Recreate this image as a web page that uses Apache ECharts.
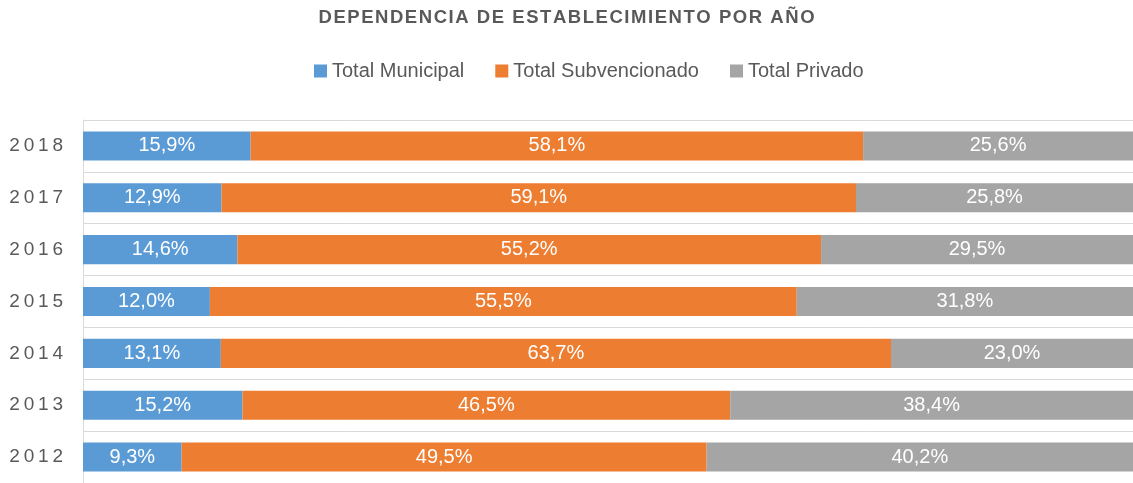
<!DOCTYPE html>
<html>
<head>
<meta charset="utf-8">
<script src="https://cdn.jsdelivr.net/npm/echarts@6/dist/echarts.min.js"></script>
<style>html,body{margin:0;padding:0;background:#fff}#c{width:1133px;height:483px}</style>
</head>
<body>
<div id="c"></div>
<script>
var titleText = 'DEPENDENCIA DE ESTABLECIMIENTO POR AÑO';
var years = ['2012', '2013', '2014', '2015', '2016', '2017', '2018'];
var seriesNames = ['Total Municipal', 'Total Subvencionado', 'Total Privado'];
var municipal = [9.3, 15.2, 13.1, 12.0, 14.6, 12.9, 15.9];
var subvencionado = [49.5, 46.5, 63.7, 55.5, 55.2, 59.1, 58.1];
var privado = [40.2, 38.4, 23.0, 31.8, 29.5, 25.8, 25.6];
var colors = ['#5B9BD5', '#ED7D31', '#A5A5A5'];

function spaced(s, sep) { return s.split('').join(sep); }
var font = '"Liberation Sans", Arial, sans-serif';

// 100% stacked: each bar's share of its year's total; labels show the original values
var totals = years.map(function (y, i) { return municipal[i] + subvencionado[i] + privado[i]; });
function share(arr) {
  return arr.map(function (v, i) { return {value: v / totals[i] * 100, orig: v}; });
}

var chart = echarts.init(document.getElementById('c'), null, {renderer: 'canvas'});
function mk(name, data, color) {
  return {
    name: name, type: 'bar', stack: 'total', data: share(data),
    barCategoryGap: '44%',
    itemStyle: {color: color},
    label: {
      show: true, position: 'inside', color: '#fff',
      fontFamily: font, fontSize: 20,
      formatter: function (p) { return p.data.orig.toFixed(1).replace('.', ',') + '%'; }
    }
  };
}
chart.setOption({
  animation: false,
  color: colors,
  title: {
    text: spaced(titleText, '\u200A'),
    left: 'center', top: 3,
    textStyle: {color: '#595959', fontSize: 18.5, fontWeight: 'bold', fontFamily: font}
  },
  legend: {
    data: seriesNames, top: 56, left: 309,
    icon: 'rect', itemWidth: 13, itemHeight: 13, itemGap: 31,
    textStyle: {color: '#595959', fontSize: 20, fontFamily: font}
  },
  grid: {left: 83, top: 120, width: 1056, height: 365, containLabel: false},
  xAxis: {type: 'value', min: 0, max: 100, show: false},
  yAxis: {
    type: 'category', data: years,
    axisLine: {show: true, lineStyle: {color: '#d9d9d9', width: 1}},
    axisTick: {show: false},
    splitLine: {show: true, lineStyle: {color: '#d9d9d9', width: 1}},
    axisLabel: {
      color: '#595959', fontSize: 19, margin: 20,
      fontFamily: font,
      formatter: function (v) { return spaced(v, '\u2009'); }
    }
  },
  series: [
    mk(seriesNames[0], municipal, colors[0]),
    mk(seriesNames[1], subvencionado, colors[1]),
    mk(seriesNames[2], privado, colors[2])
  ]
});
</script>
</body>
</html>
